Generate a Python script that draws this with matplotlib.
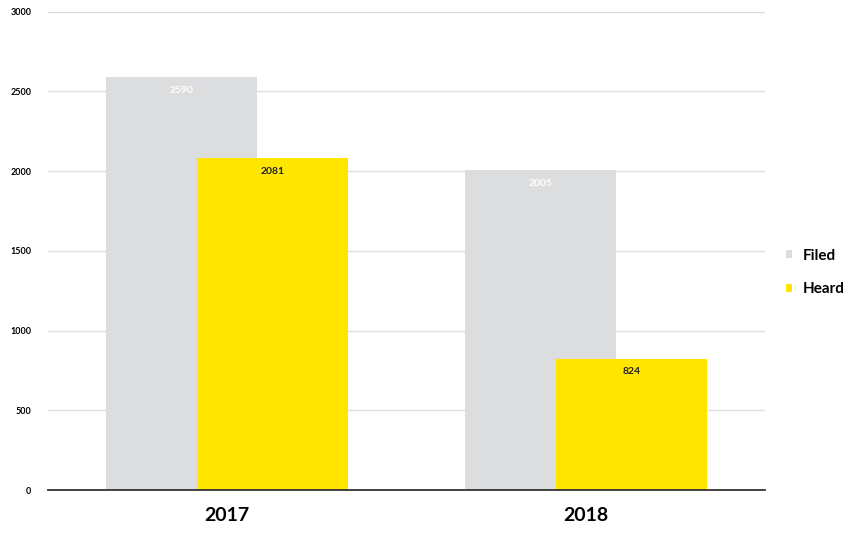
import matplotlib.pyplot as plt
import numpy as np

years = ["2017", "2018"]
filed = [2590, 2005]
heard = [2081, 824]

plt.rcParams['font.family'] = ['Lato', 'DejaVu Sans']

fig = plt.figure(figsize=(8.56, 5.35), dpi=100)
ax = fig.add_axes([0.056, 0.084, 0.838, 0.894])

x = np.arange(len(years))
w = 0.42
off = 0.127
b1 = ax.bar(x - off, filed, w, color='#dcdddf', label='Filed', zorder=2)
b2 = ax.bar(x + off, heard, w, color='#ffe600', label='Heard', zorder=3)

# value labels inside the top of each bar
for r, v in zip(b1, filed):
    ax.text(r.get_x() + r.get_width() / 2, v - 55, str(v), ha='center', va='top',
            fontsize=7.5, fontweight='bold', color='white', zorder=4)
for r, v in zip(b2, heard):
    ax.text(r.get_x() + r.get_width() / 2, v - 55, str(v), ha='center', va='top',
            fontsize=7.5, fontweight='bold', color='#222222', zorder=4)

ax.set_xlim(-0.5, 1.5)
ax.set_ylim(0, 3000)
ax.set_yticks(np.arange(0, 3001, 500))
ax.set_xticks(x)
ax.set_xticklabels(years, fontsize=14, fontweight='bold')
ax.tick_params(axis='x', length=0, pad=12)
ax.tick_params(axis='y', length=0, labelsize=6.5, pad=12)
for lab in ax.get_yticklabels():
    lab.set_fontweight('bold')
ax.grid(axis='y', color='#dedede', linewidth=1, zorder=1)
for s in ['top', 'right', 'left']:
    ax.spines[s].set_visible(False)
ax.spines['bottom'].set_color('#333333')
ax.spines['bottom'].set_linewidth(1.3)
ax.spines['bottom'].set_zorder(5)

ax.legend(loc='center left', bbox_to_anchor=(1.01, 0.455), frameon=False,
          handlelength=0.4, handleheight=0.4, handletextpad=0.7,
          prop={'size': 11, 'weight': 'bold'}, labelspacing=1.3)

fig.savefig('out.png', dpi=100)
